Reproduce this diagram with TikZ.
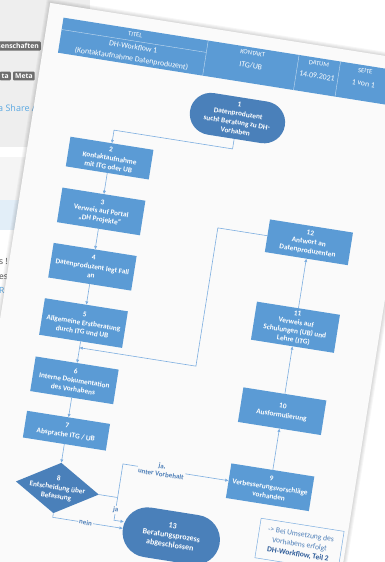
\documentclass[tikz,border=0pt]{standalone}
\usepackage{fontspec}
\setmainfont{Carlito}
\newfontfamily\webfont{Open Sans}
\usetikzlibrary{shapes.geometric,shapes.misc,arrows.meta}

\definecolor{boxblue}{HTML}{5B9BD5}
\definecolor{termblue}{HTML}{4A80BA}
\definecolor{lineblue}{HTML}{7DAEE0}
\definecolor{lblblue}{HTML}{4E7FB8}
\definecolor{notedark}{HTML}{2E5C99}
\definecolor{pagegray}{HTML}{FAFAFA}
\definecolor{panelgray}{HTML}{EEEEEE}
\definecolor{tagdark}{HTML}{6E6E6E}
\definecolor{bandblue}{HTML}{E2EEF8}
\definecolor{linkblue}{HTML}{5AA8E2}

\tikzset{
  proc/.style={rectangle, fill=boxblue, text=white, align=center,
    font=\bfseries\fontsize{7.3}{9}\selectfont, minimum width=84pt,
    minimum height=35pt, inner sep=1pt, transform shape},
  term/.style={proc, rounded rectangle, fill=termblue},
  decide/.style={proc, diamond, fill=termblue, aspect=1.65, inner sep=-5pt,
    minimum height=51pt},
  flow/.style={draw=lineblue, line width=0.6pt, -{Triangle[length=3.2pt,width=2.8pt]}},
  flowplain/.style={draw=lineblue, line width=0.6pt},
  lbl/.style={fill=pagegray, text=lblblue, font=\bfseries\fontsize{7}{8.2}\selectfont,
    align=center, inner sep=1pt, transform shape},
  cell/.style={text=white, font=\fontsize{7.8}{9}\selectfont, inner sep=0pt, transform shape},
  head/.style={cell, font=\fontsize{6.6}{8}\selectfont},
  tag/.style={fill=tagdark, text=white, font=\webfont\bfseries\fontsize{6.8}{8}\selectfont,
    rounded corners=1pt, inner sep=2pt},
  webtext/.style={text=black!70, font=\webfont\fontsize{8.5}{10}\selectfont, anchor=west, inner sep=0pt},
}

\begin{document}
\begin{tikzpicture}[x=1pt, y=-1pt]
  \useasboundingbox (0,0) rectangle (385,562);
  \clip (0,0) rectangle (385,562);

  % web page behind the sheet
  \fill[white] (0,0) rectangle (385,562);
  \fill[panelgray] (0,0) rectangle (90,147);
  \fill[black!4] (0,157) rectangle (385,200);
  \fill[bandblue] (0,200) rectangle (385,230);
  \node[tag, anchor=east] (tagA) at (41,46) {senschaften};
  \node[tag, anchor=east] (tagB) at (11,76) {ta};
  \node[tag, anchor=west] (tagC) at (13,76) {Meta};
  \node[webtext, text=linkblue, font=\webfont\fontsize{9}{11}\selectfont] (share) at (-2,108) {a Share A};
  \node[webtext] (txtA) at (-1,262) {s !};
  \node[webtext] (txtB) at (-1,277) {es};
  \node[webtext, text=linkblue] (txtC) at (-1,290) {R};

  \begin{scope}[rotate=-9]
    % sheet with soft shadow
    \foreach \s in {1,...,4}
      \fill[black, opacity=0.035] (50-\s,-5-\s) rectangle (427+\s,620);
    \fill[pagegray] (50,-5) rectangle (427,620);

    % title table
    \fill[boxblue] (65.5,7.5) rectangle (398,43);
    \draw[white!65!boxblue, line width=0.4pt] (65.5,19.5) -- (212,19.5)
      (212,7.5) -- (212,43) (304,7.5) -- (304,43) (346,7.5) -- (346,43);
    \node[head] (hTitel) at (139,13) {TITEL};
    \node[cell] (vTitel) at (139,25.5) {DH-Workflow 1};
    \node[cell] (vTitelB) at (139,37.5) {(Kontaktaufnahme Datenproduzent)};
    \node[head] (hKontakt) at (258,13) {KONTAKT};
    \node[cell] (vKontakt) at (258,25.5) {ITG/UB};
    \node[head] (hDatum) at (325,13) {DATUM};
    \node[cell] (vDatum) at (325,25.5) {14.09.2021};
    \node[head] (hSeite) at (372,13) {SEITE};
    \node[cell] (vSeite) at (372,25.5) {1 von 1};

    % workflow steps
    \node[term, minimum width=98pt, minimum height=42pt] (n1) at (253,79.5)
      {1\\Datenproduzent\\sucht Beratung zu DH-\\Vorhaben};
    \node[proc, minimum height=30pt] (n2) at (133,139) {2\\Kontaktaufnahme\\mit ITG oder UB};
    \node[proc] (n3) at (133,193) {3\\Verweis auf Portal\\„DH Projekte“};
    \node[proc] (n4) at (133,249) {4\\Datenproduzent legt Fall\\an};
    \node[proc, minimum height=37pt] (n5) at (133,306) {5\\Allgemeine Erstberatung\\durch ITG und UB};
    \node[proc] (n6) at (133,364) {6\\Interne Dokumentation\\des Vorhabens};
    \node[proc, minimum height=27pt] (n7) at (133,415) {7\\Absprache ITG / UB};
    \node[decide] (n8) at (133,473) {8\\Entscheidung über\\Befassung};
    \node[term, minimum width=100pt, minimum height=50pt,
      font=\bfseries\fontsize{8}{9.5}\selectfont] (n13) at (253,502.7)
      {13\\Beratungsprozess\\abgeschlossen};
    \node[proc, minimum height=33pt] (n12) at (343,191) {12\\Antwort an\\Datenproduzenten};
    \node[proc, minimum height=38.5pt] (n11) at (343,277) {11\\Verweis auf\\Schulungen (UB) und\\Lehre (ITG)};
    \node[proc] (n10) at (343,362) {10\\Ausformulierung};
    \node[proc] (n9) at (343,439) {9\\Verbesserungsvorschläge\\vorhanden};
    \node[draw=lineblue, line width=0.5pt, fill=pagegray, text=lblblue, align=center,
      font=\fontsize{7.6}{10}\selectfont, minimum width=84pt, minimum height=40pt,
      transform shape] (note) at (381,491)
      {-> Bei Umsetzung des\\Vorhabens erfolgt\\\textbf{\textcolor{notedark}{DH-Workflow, Teil 2}}};

    % connectors
    \coordinate (m56) at (133,331);
    \coordinate (j8) at (194,473);
    \draw[flow] (n1.south) -- ++(0,10) -| (n2.north);
    \draw[flow] (n2.south) -- (n3.north);
    \draw[flow] (n3.south) -- (n4.north);
    \draw[flow] (n4.south) -- (n5.north);
    \draw[flow] (n5.south) -- (n6.north);
    \draw[flow] (n6.south) -- (n7.north);
    \draw[flow] (n7.south) -- (n8.north);
    \draw[flow] (n12.west) -- ++(-50,0) |- (m56);
    \draw[flowplain] (n8.east) -- (j8);
    \draw[flow] (j8) |- node[lbl, pos=0.683] (lJaV) {ja,\\unter Vorbehalt} (n9.west);
    \draw[flow] (j8) |- node[lbl, pos=0.275] (lJa) {ja} ([yshift=6.7pt]n13.west);
    \draw[flow] (n8.south) |- node[lbl, pos=0.735] (lNein) {nein} (n13.west);
    \draw[flow] (n9.north) -- (n10.south);
    \draw[flow] (n10.north) -- (n11.south);
    \draw[flow] (n11.north) -- (n12.south);
  \end{scope}
\end{tikzpicture}
\end{document}
